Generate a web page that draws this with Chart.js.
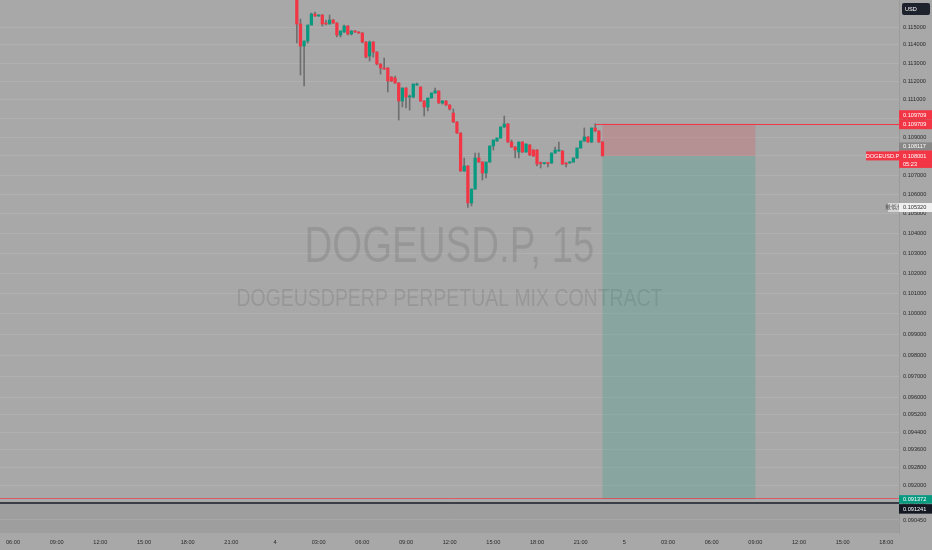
<!DOCTYPE html>
<html>
<head>
<meta charset="UTF-8">
<title>DOGEUSD.P 15</title>
<script src="https://cdn.jsdelivr.net/npm/chart.js"></script>
<style>
  body { margin: 0; background: #a8a8a8; }
  canvas { display: block; }
</style>
</head>
<body>
<canvas id="chart" width="932" height="550"></canvas>
<script>
// 15 min candles, hours counted from day "4" 00:00
const startHour = 1.5;
const opens  = [0.117000,0.115168,0.113941,0.114218,0.115112,0.115730,0.115618,0.115674,0.115224,0.115168,
                0.115393,0.115224,0.114553,0.114720,0.115056,0.114609,0.114776,0.114720,0.114664,0.114163,
                0.113387,0.114163,0.113608,0.112946,0.112726,0.112726,0.112233,0.112179,0.111906,0.110929,
                0.111633,0.111145,0.111145,0.111797,0.111688,0.110929,0.110605,0.111091,0.111362,0.111470,
                0.110821,0.110929,0.110713,0.110282,0.109800,0.109213,0.107210,0.107472,0.105552,0.106274,
                0.107891,0.107681,0.107106,0.107681,0.108524,0.108788,0.108948,0.109533,0.109693,0.108735,
                0.108471,0.108207,0.108735,0.108207,0.108577,0.108313,0.108313,0.107629,0.107600,0.107629,
                0.107629,0.108154,0.108260,0.108260,0.107629,0.107629,0.107681,0.107891,0.108418,0.108788,
                0.109001,0.108735,0.109480,0.109320,0.108735];
const highs  = [0.117200,0.115449,0.114218,0.115112,0.115787,0.115843,0.115700,0.115700,0.115393,0.115674,
                0.115420,0.115250,0.114776,0.115112,0.115080,0.114800,0.114800,0.114740,0.114690,0.114190,
                0.114218,0.114190,0.113620,0.112960,0.113276,0.112750,0.112250,0.112290,0.111930,0.111633,
                0.111650,0.111250,0.111851,0.111906,0.111700,0.110950,0.111091,0.111362,0.111633,0.111490,
                0.110950,0.110950,0.110730,0.110497,0.109820,0.109230,0.107891,0.107490,0.106274,0.108154,
                0.108154,0.107700,0.107681,0.108524,0.108842,0.108948,0.109533,0.110121,0.109710,0.108842,
                0.108490,0.108735,0.108750,0.108630,0.108600,0.108330,0.108330,0.107681,0.107650,0.107650,
                0.108154,0.108471,0.108735,0.108280,0.107650,0.107700,0.107900,0.108418,0.108788,0.109480,
                0.109020,0.109480,0.109709,0.109340,0.108760];
const lows   = [0.114107,0.112343,0.111742,0.114107,0.115112,0.115590,0.115600,0.115056,0.115112,0.115168,
                0.115200,0.114441,0.114441,0.114700,0.114553,0.114553,0.114700,0.114640,0.114107,0.113276,
                0.113110,0.113332,0.112900,0.112397,0.112650,0.111416,0.111980,0.111880,0.109907,0.110605,
                0.110551,0.110444,0.111100,0.111780,0.110900,0.110121,0.110390,0.111080,0.111350,0.110800,
                0.110766,0.110690,0.110440,0.109780,0.109190,0.107190,0.107190,0.105320,0.105400,0.106250,
                0.107660,0.106741,0.106850,0.107660,0.108313,0.108770,0.108930,0.109510,0.108710,0.108450,
                0.107891,0.107891,0.108180,0.108180,0.108020,0.107970,0.107472,0.107367,0.107570,0.107420,
                0.107600,0.108130,0.108240,0.107550,0.107420,0.107610,0.107660,0.107870,0.108400,0.108770,
                0.108710,0.108700,0.109300,0.108710,0.108001];
const closes = [0.115168,0.113941,0.114218,0.115112,0.115730,0.115618,0.115674,0.115168,0.115168,0.115393,
                0.115224,0.114553,0.114776,0.115056,0.114609,0.114776,0.114720,0.114664,0.114163,0.113332,
                0.114163,0.113608,0.112946,0.112726,0.112671,0.112015,0.112015,0.111906,0.110929,0.111633,
                0.111145,0.111200,0.111851,0.111851,0.110929,0.110605,0.111091,0.111362,0.111470,0.110821,
                0.110929,0.110713,0.110497,0.109800,0.109213,0.107210,0.107472,0.105552,0.106274,0.107891,
                0.107681,0.107106,0.107681,0.108524,0.108842,0.108948,0.109533,0.109693,0.108735,0.108471,
                0.108313,0.108735,0.108207,0.108630,0.108049,0.107997,0.107576,0.107600,0.107629,0.107600,
                0.108154,0.108313,0.108287,0.107576,0.107576,0.107681,0.107891,0.108418,0.108788,0.109001,
                0.108735,0.109480,0.109320,0.108735,0.108001];

const priceTicks = [0.09045,0.0912,0.092,0.0928,0.0936,0.0944,0.0952,0.096,0.097,0.098,0.099,0.100,0.101,
                    0.102,0.103,0.104,0.105,0.106,0.107,0.108,0.109,0.110,0.111,0.112,0.113,0.114,0.115];
const timeTickHours  = [-18,-15,-12,-9,-6,-3,0,3,6,9,12,15,18,21,24,27,30,33,36,39,42];
const timeTickLabels = ['06:00','09:00','12:00','15:00','18:00','21:00','4','03:00','06:00','09:00','12:00',
                        '15:00','18:00','21:00','5','03:00','06:00','09:00','12:00','15:00','18:00'];

// short position tool
const entryPrice = 0.108001;
const stopPrice = 0.109709;
const targetPrice = 0.091372;
const blackLinePrice = 0.091241;
const lowestPrice = 0.105320;
const prevPrice = 0.108117;
const boxStartHour = 22.5, boxEndHour = 33, stopLineStartHour = 22.0;

const RED = '#f23645', GREEN = '#089981';
const times = opens.map((_, i) => startHour + i * 0.25);
const colors = opens.map((o, i) => closes[i] >= o ? GREEN : RED);
const FONT = '"Liberation Sans", Arial, sans-serif';

function fitText(ctx, text, cx, base, font, width, color) {
  ctx.save();
  ctx.font = font;
  const w = ctx.measureText(text).width;
  ctx.translate(cx, base);
  ctx.scale(width / w, 1);
  ctx.textAlign = 'center';
  ctx.textBaseline = 'alphabetic';
  ctx.fillStyle = color;
  ctx.fillText(text, 0, 0);
  ctx.restore();
}

function tag(ctx, x, y, w, h, bg, fg, text, align) {
  ctx.fillStyle = bg;
  ctx.fillRect(x, y, w, h);
  ctx.fillStyle = fg;
  ctx.font = '5.6px ' + FONT;
  ctx.textBaseline = 'middle';
  if (align === 'center') {
    ctx.textAlign = 'center';
    ctx.fillText(text, x + w / 2, y + h / 2 + 0.3);
  } else {
    ctx.textAlign = 'left';
    ctx.fillText(text, x + 4, y + h / 2 + 0.3);
  }
}

const drawing = {
  id: 'drawing',
  beforeDraw(chart) {
    const { ctx, width, height, chartArea: a, scales: { y } } = chart;
    ctx.save();
    ctx.fillStyle = '#a8a8a8';
    ctx.fillRect(0, 0, width, height);
    const yb = y.getPixelForValue(blackLinePrice);
    ctx.fillStyle = 'rgba(0,0,0,0.06)';
    ctx.fillRect(a.left, yb, a.right - a.left, a.bottom - yb);
    ctx.restore();
  },
  beforeDatasetsDraw(chart) {
    const { ctx, chartArea: a, scales: { x, y } } = chart;
    ctx.save();
    const cx = (a.left + a.right) / 2;
    fitText(ctx, 'DOGEUSD.P, 15', cx, 262, '50px "Liberation Sans Narrow", "Liberation Sans", sans-serif', 290, 'rgba(0,0,0,0.1)');
    fitText(ctx, 'DOGEUSDPERP PERPETUAL MIX CONTRACT', cx, 306, '23px "Liberation Sans Narrow", "Liberation Sans", sans-serif', 426, 'rgba(0,0,0,0.1)');
    const x0 = x.getPixelForValue(boxStartHour), x1 = x.getPixelForValue(boxEndHour);
    const yS = y.getPixelForValue(stopPrice), yE = y.getPixelForValue(entryPrice), yT = y.getPixelForValue(targetPrice);
    ctx.fillStyle = 'rgba(242,54,69,0.2)';
    ctx.fillRect(x0, yS, x1 - x0, yE - yS);
    ctx.fillStyle = 'rgba(8,153,129,0.2)';
    ctx.fillRect(x0, yE, x1 - x0, yT - yE);
    ctx.restore();
  },
  afterDatasetsDraw(chart) {
    const { ctx, chartArea: a, scales: { x, y } } = chart;
    ctx.save();
    ctx.lineWidth = 1;
    ctx.strokeStyle = RED;
    let yy = Math.round(y.getPixelForValue(stopPrice)) + 0.5;
    ctx.beginPath(); ctx.moveTo(x.getPixelForValue(stopLineStartHour), yy); ctx.lineTo(a.right, yy); ctx.stroke();
    ctx.strokeStyle = 'rgba(242,54,69,0.7)';
    yy = Math.floor(y.getPixelForValue(targetPrice)) - 0.5;
    ctx.beginPath(); ctx.moveTo(a.left, yy); ctx.lineTo(a.right, yy); ctx.stroke();
    ctx.strokeStyle = '#3a3d45';
    ctx.lineWidth = 2;
    yy = Math.round(y.getPixelForValue(blackLinePrice)) + 1;
    ctx.beginPath(); ctx.moveTo(a.left, yy); ctx.lineTo(a.right, yy); ctx.stroke();
    ctx.restore();
  },
  afterDraw(chart) {
    const { ctx, chartArea: a, scales: { y } } = chart;
    const ax = a.right, aw = chart.width - a.right;
    ctx.save();
    // currency badge
    ctx.fillStyle = '#1e222d';
    ctx.beginPath();
    ctx.roundRect(ax + 3, 3, 28, 12, 2);
    ctx.fill();
    ctx.fillStyle = '#fff';
    ctx.font = '5.6px ' + FONT;
    ctx.textAlign = 'left'; ctx.textBaseline = 'middle';
    ctx.fillText('USD', ax + 6, 9.3);

    const yS = y.getPixelForValue(stopPrice);
    tag(ctx, ax, yS - 13.5, aw, 9.5, RED, '#fff', stopPrice.toFixed(6));
    tag(ctx, ax, yS - 4, aw, 9.5, RED, '#fff', stopPrice.toFixed(6));

    const yE = y.getPixelForValue(entryPrice);
    tag(ctx, ax, yE - 13.5, aw, 8, '#878787', '#fff', prevPrice.toFixed(6));
    ctx.fillStyle = RED;
    ctx.fillRect(ax, yE - 5.5, aw, 17.5);
    ctx.fillStyle = '#fff';
    ctx.font = '5.6px ' + FONT;
    ctx.textAlign = 'left'; ctx.textBaseline = 'middle';
    ctx.fillText(entryPrice.toFixed(6), ax + 4, yE + 0.3);
    ctx.fillText('05:23', ax + 4, yE + 8.3);
    tag(ctx, ax - 33, yE - 4.5, 33, 9, RED, '#fff', 'DOGEUSD.P', 'center');

    const yL = y.getPixelForValue(lowestPrice);
    tag(ctx, ax - 11, yL - 4.5, 11, 9, '#d6d6d6', '#555', '最低价', 'center');
    tag(ctx, ax, yL - 4.5, aw, 9, '#f0f0f0', '#333', lowestPrice.toFixed(6));

    const yT = y.getPixelForValue(targetPrice);
    tag(ctx, ax, yT - 4, aw, 8.5, GREEN, '#fff', targetPrice.toFixed(6));
    tag(ctx, ax, yT + 5, aw, 9.5, '#131722', '#fff', blackLinePrice.toFixed(6));
    ctx.restore();
  }
};

new Chart(document.getElementById('chart'), {
  type: 'bar',
  data: {
    datasets: [{
      label: 'wick',
      data: times.map((t, i) => ({ x: t, y: [lows[i], highs[i]] })),
      backgroundColor: '#6f6f6f',
      barThickness: 1,
      minBarLength: 1,
      grouped: false,
      order: 2
    }, {
      label: 'body',
      data: times.map((t, i) => ({ x: t, y: [Math.min(opens[i], closes[i]), Math.max(opens[i], closes[i])] })),
      backgroundColor: colors,
      barThickness: 2.6,
      minBarLength: 1,
      grouped: false,
      order: 1
    }]
  },
  options: {
    responsive: false,
    animation: false,
    layout: { padding: 0 },
    plugins: { legend: { display: false }, tooltip: { enabled: false } },
    scales: {
      x: {
        type: 'linear',
        offset: false,
        min: -18.893,
        max: 42.87,
        afterBuildTicks(scale) { scale.ticks = timeTickHours.map(v => ({ value: v })); },
        afterFit(scale) { scale.height = 17; scale.paddingLeft = 0; scale.paddingRight = 0; },
        ticks: {
          autoSkip: false, maxRotation: 0, padding: 6,
          color: '#2b2b2b', font: { size: 5.6, family: FONT },
          callback: (v) => timeTickLabels[timeTickHours.indexOf(v)]
        },
        grid: { display: false, drawTicks: false },
        border: { display: false }
      },
      y: {
        type: 'logarithmic',
        position: 'right',
        min: 0.089878,
        max: 0.116523,
        afterBuildTicks(scale) { scale.ticks = priceTicks.map(v => ({ value: v })); },
        afterFit(scale) { scale.width = 33; scale.paddingTop = 0; scale.paddingBottom = 0; },
        ticks: {
          padding: 4,
          color: '#2b2b2b', font: { size: 5.6, family: FONT },
          callback: (v) => Number(v).toFixed(6)
        },
        grid: { color: 'rgba(255,255,255,0.1)', drawTicks: false },
        border: { display: true, color: 'rgba(0,0,0,0.08)' }
      }
    }
  },
  plugins: [drawing]
});
</script>
</body>
</html>
